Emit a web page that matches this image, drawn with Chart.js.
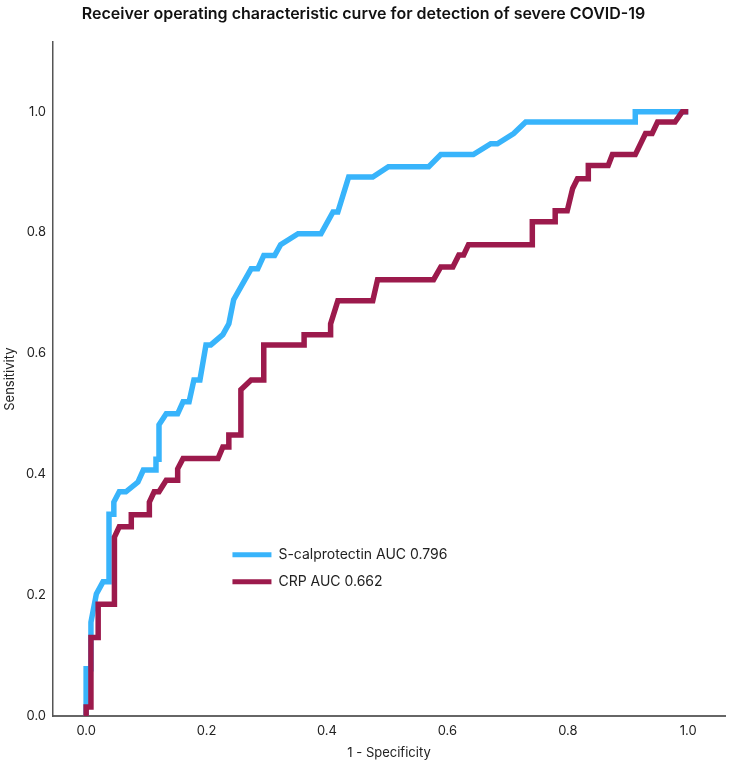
<!DOCTYPE html>
<html>
<head>
<meta charset="utf-8">
<script src="https://cdn.jsdelivr.net/npm/chart.js@4.4.1/dist/chart.umd.min.js"></script>
<style>
  html, body { margin: 0; padding: 0; background: #fff; }
  #wrap { width: 730px; height: 765px; }
</style>
</head>
<body>
<div id="wrap"><canvas id="roccanvas"></canvas></div>
<script>
// ROC steps (x = 1 - specificity, y = sensitivity)
var calproX = [0, 0, 0.008, 0.008, 0.017, 0.028, 0.038, 0.038, 0.046, 0.046, 0.055, 0.066, 0.086, 0.095, 0.116, 0.116, 0.121, 0.121, 0.133, 0.152, 0.161, 0.171, 0.179, 0.189, 0.199, 0.207, 0.227, 0.237, 0.245, 0.274, 0.285, 0.295, 0.313, 0.323, 0.352, 0.390, 0.410, 0.418, 0.436, 0.476, 0.502, 0.569, 0.589, 0.643, 0.672, 0.683, 0.710, 0.730, 0.912, 0.912, 1.0];
var calproY = [0, 0.078, 0.078, 0.155, 0.202, 0.222, 0.222, 0.334, 0.334, 0.354, 0.371, 0.371, 0.387, 0.407, 0.407, 0.425, 0.425, 0.482, 0.500, 0.500, 0.520, 0.520, 0.556, 0.556, 0.614, 0.614, 0.631, 0.649, 0.689, 0.740, 0.740, 0.762, 0.762, 0.780, 0.798, 0.798, 0.834, 0.834, 0.892, 0.892, 0.909, 0.909, 0.929, 0.929, 0.947, 0.947, 0.964, 0.983, 0.983, 1.0, 1.0];

var crpX = [0, 0, 0.008, 0.008, 0.020, 0.020, 0.047, 0.047, 0.055, 0.075, 0.075, 0.105, 0.105, 0.113, 0.121, 0.133, 0.152, 0.152, 0.161, 0.219, 0.227, 0.237, 0.237, 0.257, 0.257, 0.274, 0.295, 0.295, 0.362, 0.362, 0.406, 0.406, 0.418, 0.476, 0.484, 0.577, 0.589, 0.609, 0.619, 0.627, 0.635, 0.741, 0.741, 0.779, 0.779, 0.799, 0.808, 0.816, 0.834, 0.834, 0.867, 0.874, 0.912, 0.929, 0.940, 0.949, 0.978, 0.990, 1.0];
var crpY = [0, 0.015, 0.015, 0.130, 0.130, 0.185, 0.185, 0.296, 0.313, 0.313, 0.333, 0.333, 0.354, 0.371, 0.371, 0.390, 0.390, 0.409, 0.426, 0.426, 0.445, 0.445, 0.465, 0.465, 0.540, 0.556, 0.556, 0.614, 0.614, 0.631, 0.631, 0.649, 0.687, 0.687, 0.722, 0.722, 0.743, 0.743, 0.763, 0.763, 0.780, 0.780, 0.818, 0.818, 0.836, 0.836, 0.873, 0.889, 0.889, 0.911, 0.911, 0.929, 0.929, 0.964, 0.964, 0.983, 0.983, 1.0, 1.0];

var seriesNames = ['S-calprotectin AUC 0.796', 'CRP AUC 0.662'];
var xTicks = [0, 0.2, 0.4, 0.6, 0.8, 1.0];
var yTicks = [0, 0.2, 0.4, 0.6, 0.8, 1.0];

function toPoints(xs, ys) {
  var pts = [];
  for (var i = 0; i < xs.length; i++) pts.push({x: xs[i], y: ys[i]});
  return pts;
}

var blue = '#38b4fb';
var maroon = '#9c1a4c';
var fontFam = "Inter, 'Noto Sans', sans-serif";

// legend drawn inside the plot, like the original
var innerLegend = {
  id: 'innerLegend',
  afterDatasetsDraw: function(chart) {
    var ctx = chart.ctx;
    var xs = chart.scales.x, ys = chart.scales.y;
    var x0 = xs.getPixelForValue(0.243);
    var y0 = ys.getPixelForValue(0.267);
    ctx.save();
    ctx.font = '14px ' + fontFam;
    ctx.textBaseline = 'middle';
    chart.data.datasets.forEach(function(ds, i) {
      var yy = y0 + i * 27;
      ctx.strokeStyle = ds.borderColor;
      ctx.lineWidth = 5;
      ctx.beginPath();
      ctx.moveTo(x0, yy);
      ctx.lineTo(x0 + 39, yy);
      ctx.stroke();
      ctx.fillStyle = '#222';
      ctx.fillText(ds.label, x0 + 46, yy);
    });
    ctx.restore();
  }
};

var rocconfig = {
  type: 'line',
  data: {
    datasets: [{
      label: seriesNames[0],
      data: toPoints(calproX, calproY),
      borderColor: blue,
      backgroundColor: blue,
      borderWidth: 5.5,
      pointRadius: 0,
      tension: 0,
      fill: false,
      order: 2
    }, {
      label: seriesNames[1],
      data: toPoints(crpX, crpY),
      borderColor: maroon,
      backgroundColor: maroon,
      borderWidth: 5.5,
      pointRadius: 0,
      tension: 0,
      fill: false,
      order: 1
    }]
  },
  options: {
    responsive: true,
    maintainAspectRatio: false,
    animation: false,
    layout: { padding: { left: 2, right: 5, top: 0, bottom: 1 } },
    plugins: {
      legend: { display: false },
      tooltip: { enabled: false },
      title: {
        display: true,
        text: 'Receiver operating characteristic curve for detection of severe COVID-19',
        color: '#111',
        font: { family: fontFam, size: 16, weight: '600' },
        padding: { top: 5, bottom: 18 }
      }
    },
    scales: {
      x: {
        type: 'linear',
        min: -0.055,
        max: 1.061,
        afterBuildTicks: function(axis) {
          axis.ticks = xTicks.map(function(v) { return {value: v}; });
        },
        ticks: {
          color: '#222',
          font: { family: fontFam, size: 13, lineHeight: 1 },
          padding: 9,
          maxRotation: 0,
          callback: function(v) { return v.toFixed(1); }
        },
        grid: { display: false, drawTicks: false },
        border: { display: true, color: '#666', width: 2 },
        title: {
          display: true,
          text: '1 - Specificity',
          color: '#222',
          font: { family: fontFam, size: 13, lineHeight: 1 },
          padding: { top: 0, bottom: 4 }
        }
      },
      y: {
        type: 'linear',
        min: 0,
        max: 1.115,
        afterBuildTicks: function(axis) {
          axis.ticks = yTicks.map(function(v) { return {value: v}; });
        },
        ticks: {
          color: '#222',
          font: { family: fontFam, size: 13 },
          padding: 7,
          callback: function(v) { return v.toFixed(1); }
        },
        grid: { display: false, drawTicks: false },
        border: { display: true, color: '#555', width: 1.5 },
        title: {
          display: true,
          text: 'Sensitivity',
          color: '#222',
          font: { family: fontFam, size: 13, lineHeight: 1 },
          padding: { top: 2, bottom: 2 }
        }
      }
    }
  },
  plugins: [innerLegend]
};

var rocctx = document.getElementById('roccanvas').getContext('2d');
var rocchart = new Chart(rocctx, rocconfig);
</script>
</body>
</html>
